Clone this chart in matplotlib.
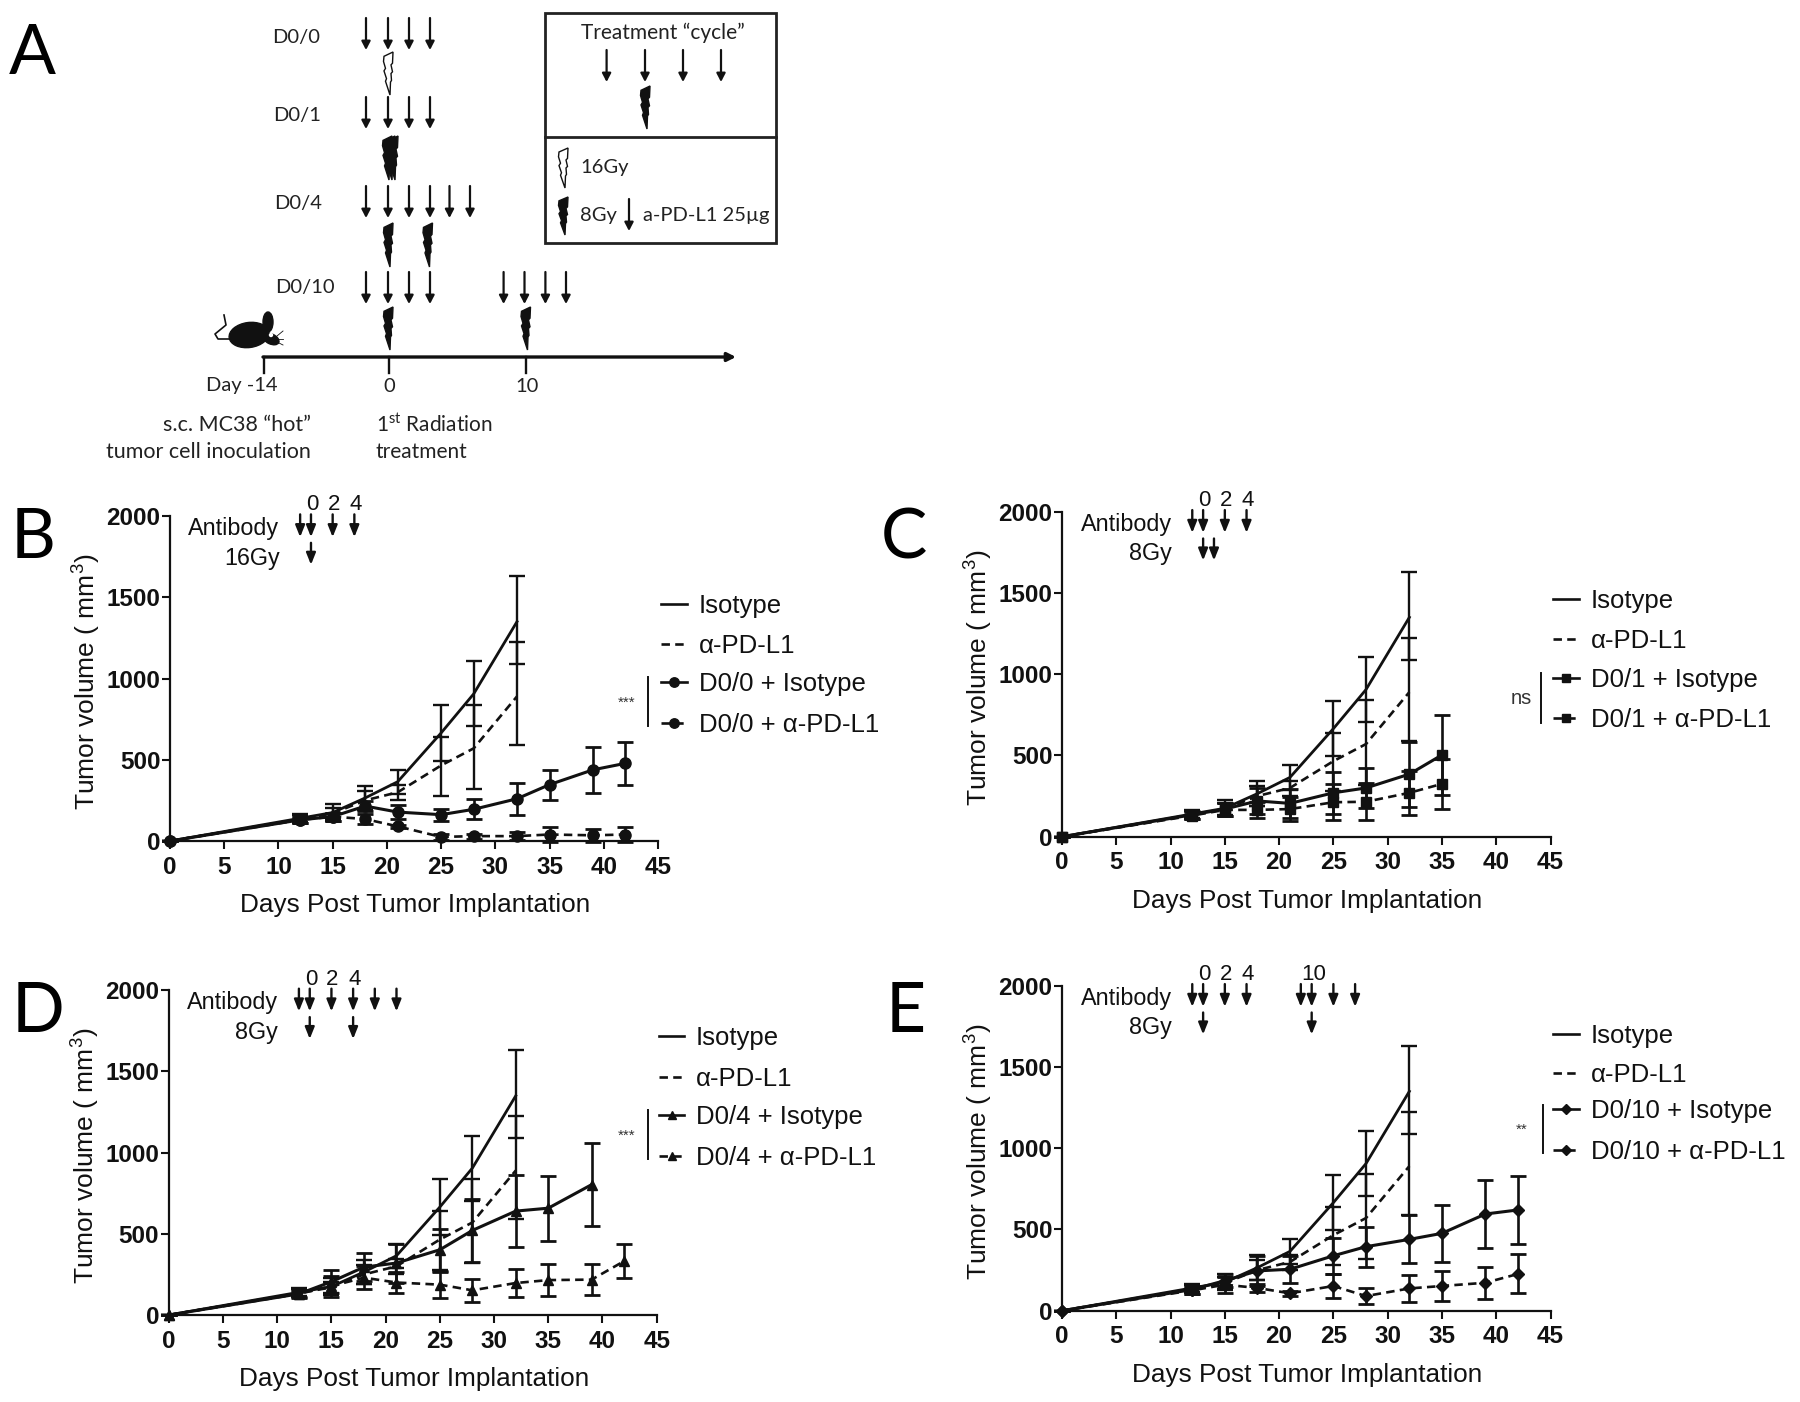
import matplotlib
matplotlib.use('Agg')
import matplotlib.pyplot as plt
from matplotlib.patches import Ellipse, Polygon, Rectangle

plt.rcParams['font.family'] = ['Liberation Sans', 'DejaVu Sans']
plt.rcParams['mathtext.fontset'] = 'custom'
plt.rcParams['mathtext.rm'] = 'Liberation Sans'
plt.rcParams['mathtext.default'] = 'regular'

W, H = 1800, 1402
INK = '#111111'

# ------------------------------ data ------------------------------
iso_days = [0, 12, 15, 18, 21, 25, 28, 32]
iso_vals = [0, 140, 175, 265, 365, 665, 905, 1350]
iso_hi = [0, 165, 225, 340, 440, 835, 1105, 1630]
iso_lo = [0, 115, 125, 190, 290, 495, 705, 1090]
apd_vals = [0, 135, 170, 250, 300, 465, 570, 890]
apd_hi = [0, 160, 205, 310, 345, 640, 840, 1225]
apd_lo = [0, 110, 135, 190, 250, 280, 320, 590]

b_days = [0, 12, 15, 18, 21, 25, 28, 32, 35, 39, 42]
b_iso = [0, 130, 150, 215, 178, 162, 195, 260, 347, 438, 478]
b_iso_err = [0, 20, 25, 30, 45, 38, 62, 97, 92, 140, 133]
b_apd = [0, 130, 150, 135, 90, 25, 30, 30, 40, 35, 40]
b_apd_err = [0, 20, 25, 30, 10, 20, 15, 25, 45, 40, 45]

c_days = [0, 12, 15, 18, 21, 25, 28, 32, 35]
c_iso = [0, 135, 170, 220, 205, 270, 300, 385, 503]
c_iso_err = [0, 25, 40, 80, 90, 130, 125, 200, 245]
c_apd = [0, 130, 165, 165, 170, 212, 215, 270, 325]
c_apd_err = [0, 20, 40, 50, 75, 110, 115, 135, 155]

d_days_iso = [0, 12, 15, 18, 21, 25, 28, 32, 35, 39]
d_iso = [0, 130, 205, 295, 320, 402, 521, 640, 658, 803]
d_iso_err = [0, 25, 70, 85, 120, 130, 195, 220, 200, 255]
d_days_apd = [0, 12, 15, 18, 21, 25, 28, 32, 35, 39, 42]
d_apd = [0, 130, 178, 230, 200, 187, 152, 197, 215, 218, 332]
d_apd_err = [0, 20, 65, 70, 65, 80, 72, 88, 100, 95, 105]

e_days = [0, 12, 15, 18, 21, 25, 28, 32, 35, 39, 42]
e_iso = [0, 130, 185, 245, 255, 338, 394, 439, 476, 595, 620]
e_iso_err = [0, 25, 40, 90, 82, 112, 123, 147, 176, 207, 207]
e_apd = [0, 125, 160, 140, 107, 152, 90, 137, 152, 172, 226]
e_apd_err = [0, 20, 50, 25, 15, 72, 48, 85, 95, 97, 120]

x_ticks = [0, 5, 10, 15, 20, 25, 30, 35, 40, 45]
y_ticks = [0, 500, 1000, 1500, 2000]

fig = plt.figure(figsize=(W / 100, H / 100), dpi=100)
bg = fig.add_axes([0, 0, 1, 1])
bg.set_xlim(0, W)
bg.set_ylim(H, 0)
bg.axis('off')


def lightning(cx, top, bottom, filled=True):
    h = bottom - top
    shape = [(-4, 0.1), (5, 0.0), (4.5, 0.26), (3, 0.3), (4.5, 0.46), (3, 0.5),
             (3.5, 0.66), (2.5, 0.7), (2, 1.0), (-2.5, 0.68), (-1.5, 0.62),
             (-4, 0.44), (-2.5, 0.38), (-4.5, 0.22)]
    pts = [(cx + a, top + b * h) for a, b in shape]
    bg.add_patch(Polygon(pts, closed=True, fc=INK if filled else 'white', ec=INK, lw=1.0))


def down_arrow(x, top, bottom, lw=1.6):
    bg.annotate('', xy=(x, bottom), xytext=(x, top),
                arrowprops=dict(arrowstyle='-|>,head_width=0.26,head_length=0.5', color=INK,
                                lw=lw, shrinkA=0, shrinkB=0))


def schematic():
    f = ['Lato', 'DejaVu Sans']
    for label, x, y in [('D0/0', 296, 37), ('D0/1', 297, 115), ('D0/4', 298, 203), ('D0/10', 305, 287)]:
        bg.text(x, y, label, family=f, fontsize=14.5, ha='center', va='center', color='#222222')
    for top, xs in [(18, [366, 388, 409, 430]), (97, [366, 388, 409, 430]),
                    (186, [366, 388, 409, 430, 449.5, 470]),
                    (272, [366, 388, 409, 430, 503.6, 524.5, 545.4, 566])]:
        for x in xs:
            down_arrow(x, top, top + 32)
    lightning(388, 52, 95, filled=False)
    for x in [387, 390, 393]:
        lightning(x, 136, 180)
    for x in [388, 427.5]:
        lightning(x, 223, 267)
    for x in [388, 525.5]:
        lightning(x, 307, 350)

    # timeline
    bg.annotate('', xy=(736, 357), xytext=(263, 357),
                arrowprops=dict(arrowstyle='-|>,head_width=0.25,head_length=0.5', color=INK,
                                lw=2.4, shrinkA=0, shrinkB=0))
    for x in [264, 389, 525.5]:
        bg.plot([x, x], [357, 373], color=INK, lw=1.7)
    bg.text(242, 386, 'Day -14', family=f, fontsize=14.5, ha='center', va='center', color='#222222')
    bg.text(389, 386, '0', family=f, fontsize=14.5, ha='center', va='center', color='#222222')
    bg.text(527, 386, '10', family=f, fontsize=14.5, ha='center', va='center', color='#222222')
    bg.text(311, 425, 's.c. MC38 \u201chot\u201d', family=f, fontsize=15.5, ha='right', va='center', color='#222222')
    bg.text(311, 452, 'tumor cell inoculation', family=f, fontsize=15.5, ha='right', va='center', color='#222222')
    bg.text(376, 425, '1$^{st}$ Radiation', family=f, fontsize=15, ha='left', va='center', color='#222222')
    bg.text(376, 452, 'treatment', family=f, fontsize=15, ha='left', va='center', color='#222222')

    # mouse
    bg.add_patch(Ellipse((249, 335), 40, 25, angle=-8, color=INK))
    bg.add_patch(Ellipse((268, 322), 10, 20, color=INK))
    bg.add_patch(Ellipse((271, 339), 17, 10, angle=25, color=INK))
    bg.add_patch(Ellipse((271, 335), 3, 3, color='white'))
    bg.plot([231, 218, 215, 226, 224], [339, 339, 334, 325, 315], color=INK, lw=1.2)
    for y0, y1 in [(336, 331), (339, 339), (342, 345)]:
        bg.plot([277, 283], [y0, y1], color=INK, lw=0.6)

    # inset box
    bg.add_patch(Rectangle((545, 13), 230.5, 230, fc='white', ec='#222222', lw=2))
    bg.plot([545, 775.5], [137, 137], color='#222222', lw=2)
    bg.text(663, 33, 'Treatment \u201ccycle\u201d', family=f, fontsize=15, ha='center', va='center', color='#222222')
    for x in [606.6, 645, 683, 721]:
        down_arrow(x, 50, 82)
    lightning(645, 86, 129)
    lightning(563, 148, 188, filled=False)
    lightning(563, 197, 235)
    bg.text(580, 167, '16Gy', family=f, fontsize=14.5, ha='left', va='center', color='#222222')
    bg.text(580, 216, '8Gy', family=f, fontsize=14.5, ha='left', va='center', color='#222222')
    down_arrow(629, 199, 231)
    bg.text(643, 215, 'a-PD-L1 25\u00b5g', family=f, fontsize=14.5, ha='left', va='center', color='#222222')


def panel(box, letter, letter_xy, dose, ab_days, rt_days, series, marker, ms,
          legend_x, legend_y, legend_names, bracket, sig, sig_xy):
    left, right, top, bottom = box
    ax = fig.add_axes([left / W, 1 - bottom / H, (right - left) / W, (bottom - top) / H])
    ax.patch.set_alpha(0)
    ax.set_xlim(0, 45)
    ax.set_ylim(0, 2000)
    for s in ['top', 'right']:
        ax.spines[s].set_visible(False)
    for s in ['left', 'bottom']:
        ax.spines[s].set_linewidth(1.6)
        ax.spines[s].set_color(INK)
    ax.set_xticks(x_ticks)
    ax.set_yticks(y_ticks)
    ax.tick_params(axis='x', length=5.5, width=1.5, pad=5, labelsize=17.5, colors=INK)
    ax.tick_params(axis='y', length=5.5, width=1.5, pad=1.5, labelsize=17.5, colors=INK)
    for t in ax.get_xticklabels() + ax.get_yticklabels():
        t.set_fontweight('bold')
    ax.set_xlabel('Days Post Tumor Implantation', fontsize=18.8, color=INK)
    ax.set_ylabel('Tumor volume ( mm$^3$)', fontsize=19, color=INK)
    ax.xaxis.set_label_coords(0.502, -0.16)
    ax.yaxis.set_label_coords(-0.137, 0.49)

    # shared controls
    ax.errorbar(iso_days, iso_vals,
                yerr=[[v - l for v, l in zip(iso_vals, iso_lo)], [h - v for v, h in zip(iso_vals, iso_hi)]],
                color=INK, lw=2.0, capsize=5.5, capthick=1.7, elinewidth=1.7, clip_on=False)
    ax.errorbar(iso_days, apd_vals,
                yerr=[[v - l for v, l in zip(apd_vals, apd_lo)], [h - v for v, h in zip(apd_vals, apd_hi)]],
                color=INK, lw=1.9, ls=(0, (3.2, 2)), capsize=5.5, capthick=1.7, elinewidth=1.7, clip_on=False)

    for days, vals, errs, ls in series:
        eb = ax.errorbar(days, vals, yerr=errs, color=INK, lw=2.2 if ls == '-' else 1.9, ls=ls,
                         marker=marker, ms=ms, capsize=5.5, capthick=2, elinewidth=1.9, clip_on=False)
        for c in eb[1] + eb[2]:
            c.set_clip_on(False)

    # schedule arrows run along the day axis
    for d in ab_days:
        ax.annotate('', xy=(d, 1870), xytext=(d, 2010), annotation_clip=False,
                    arrowprops=dict(arrowstyle='-|>,head_width=0.28,head_length=0.7', color=INK,
                                    lw=1.7, shrinkA=0, shrinkB=0))
    for d in rt_days:
        ax.annotate('', xy=(d, 1700), xytext=(d, 1835), annotation_clip=False,
                    arrowprops=dict(arrowstyle='-|>,head_width=0.28,head_length=0.7', color=INK,
                                    lw=1.7, shrinkA=0, shrinkB=0))
    labels = [(13.1, '0'), (15.1, '2'), (17.1, '4')]
    if 22 in ab_days:
        labels.append((23.2, '10'))
    for d, s in labels:
        ax.text(d, 2068, s, fontsize=16, ha='center', va='center', color=INK, clip_on=False)
    ax.text(10.1, 1924, 'Antibody', fontsize=16.8, ha='right', va='center', color=INK)
    ax.text(10.1, 1740, dose, fontsize=16.8, ha='right', va='center', color=INK)

    # hand placed legend
    x0, x1 = legend_x
    styles = [('-', None), ((0, (3.2, 2)), None), ('-', marker), ((0, (3.2, 2)), marker)]
    for y, name, (ls, m) in zip(legend_y, legend_names, styles):
        bg.plot([x0, x1], [y, y], color=INK, lw=1.9, ls=ls)
        if m:
            bg.plot([(x0 + x1) / 2], [y], color=INK, marker=m, ms=ms * 0.85)
        bg.text(x1 + 12, y + 2, name, fontsize=18.5, ha='left', va='center', color=INK)
    bg.plot([bracket[0], bracket[0]], [bracket[1], bracket[2]], color=INK, lw=1.4)
    bg.text(sig_xy[0], sig_xy[1], sig, fontsize=11 if '*' in sig else 14.5, ha='center', va='center',
            color='#333333')

    bg.text(letter_xy[0], letter_xy[1], letter, family=['Lato', 'DejaVu Sans'], fontsize=50,
            ha='center', va='center', color='black')


schematic()
bg.text(32, 55, 'A', family=['Lato', 'DejaVu Sans'], fontsize=50, ha='center', va='center', color='black')

names_b = ['Isotype', '\u03b1-PD-L1', 'D0/0 + Isotype', 'D0/0 + \u03b1-PD-L1']
names_c = ['Isotype', '\u03b1-PD-L1', 'D0/1 + Isotype', 'D0/1 + \u03b1-PD-L1']
names_d = ['Isotype', '\u03b1-PD-L1', 'D0/4 + Isotype', 'D0/4 + \u03b1-PD-L1']
names_e = ['Isotype', '\u03b1-PD-L1', 'D0/10 + Isotype', 'D0/10 + \u03b1-PD-L1']

panel((170, 658, 516, 841), 'B', (33, 538), '16Gy', [12, 13, 15, 17], [13],
      [(b_days, b_iso, b_iso_err, '-'), (b_days, b_apd, b_apd_err, (0, (3.2, 2)))], 'o', 8,
      (661, 687), [604, 644, 682, 723], names_b, (648, 677, 726), '***', (627, 703))
panel((1062, 1550.5, 511.7, 836.7), 'C', (904, 539), '8Gy', [12, 13, 15, 17], [13, 14],
      [(c_days, c_iso, c_iso_err, '-'), (c_days, c_apd, c_apd_err, (0, (3.2, 2)))], 's', 7.5,
      (1553, 1579), [599, 639, 678, 718], names_c, (1541, 673, 723), 'ns', (1521, 698))
panel((168.8, 656.7, 990.3, 1315), 'D', (38, 1013), '8Gy', [12, 13, 15, 17, 19, 21], [13, 17],
      [(d_days_iso, d_iso, d_iso_err, '-'), (d_days_apd, d_apd, d_apd_err, (0, (3.2, 2)))], '^', 7,
      (659, 684), [1036, 1077, 1115, 1156], names_d, (648, 1110, 1159), '***', (627, 1136))
panel((1062, 1550.5, 985.7, 1310.7), 'E', (906, 1012), '8Gy', [12, 13, 15, 17, 22, 23, 25, 27], [13, 23],
      [(e_days, e_iso, e_iso_err, '-'), (e_days, e_apd, e_apd_err, (0, (3.2, 2)))], 'D', 6,
      (1553, 1579), [1034, 1073, 1109, 1150], names_e, (1543, 1105, 1153), '**', (1521.5, 1130))

plt.savefig('out.png', dpi=100)
